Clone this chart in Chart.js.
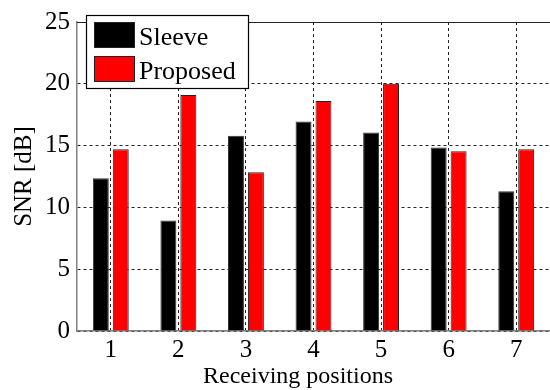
<!DOCTYPE html>
<html>
<head>
<meta charset="utf-8">
<script src="https://cdn.jsdelivr.net/npm/chart.js@4/dist/chart.umd.min.js"></script>
<style>
  html, body { margin: 0; padding: 0; background: #fff; }
  #wrap { width: 550px; height: 390px; position: relative; }
</style>
</head>
<body>
<div id="wrap"><canvas id="c"></canvas></div>
<script>
// Receiving positions and measured SNR (dB) for each antenna
const positions = ['1', '2', '3', '4', '5', '6', '7'];
const sleeveSNR   = [12.35, 8.95, 15.8, 16.95, 16.05, 14.85, 11.3];
const proposedSNR = [14.7, 19.1, 12.85, 18.6, 20.0, 14.55, 14.7];
const seriesNames = ['Sleeve', 'Proposed'];
const yTicks = [0, 5, 10, 15, 20, 25];
const xTitle = 'Receiving positions';
const yTitle = 'SNR [dB]';

const SERIF = "'Liberation Serif', 'Times New Roman', Tinos, 'DejaVu Serif', 'Noto Serif', serif";

// Axis titles, solid top frame line and the boxed legend in the upper-left corner
const framePlugin = {
  id: 'frameAndLegend',
  afterDraw(chart) {
    const ctx = chart.ctx;
    const a = chart.chartArea;
    ctx.save();
    ctx.strokeStyle = '#222';
    ctx.lineWidth = 1;
    ctx.beginPath();
    ctx.moveTo(a.left, a.top + 0.5);
    ctx.lineTo(a.right, a.top + 0.5);
    ctx.stroke();

    // axis titles
    ctx.fillStyle = '#000';
    ctx.font = '24px ' + SERIF;
    ctx.textAlign = 'center';
    ctx.textBaseline = 'alphabetic';
    ctx.fillText(xTitle, 298, 383);
    ctx.save();
    ctx.translate(31, (a.top + a.bottom) / 2);
    ctx.rotate(-Math.PI / 2);
    ctx.font = '25px ' + SERIF;
    ctx.fillText(yTitle, 0, 0);
    ctx.restore();

    // legend
    const bx = 86, by = 15, bw = 162, bh = 73;
    ctx.fillStyle = '#fff';
    ctx.fillRect(bx, by, bw, bh);
    ctx.strokeStyle = '#000';
    ctx.lineWidth = 1.2;
    ctx.strokeRect(bx + 0.5, by + 0.5, bw, bh);

    ctx.font = '26px ' + SERIF;
    ctx.textAlign = 'left';
    chart.data.datasets.forEach((ds, i) => {
      const sy = 22 + i * 34;
      ctx.fillStyle = ds.backgroundColor;
      ctx.fillRect(94, sy, 41, 26);
      ctx.strokeStyle = '#222';
      ctx.lineWidth = 1;
      ctx.strokeRect(94.5, sy + 0.5, 40, 25);
      ctx.fillStyle = '#000';
      ctx.fillText(ds.label, 139, sy + 23);
    });
    ctx.restore();
  }
};

function build() {
  new Chart(document.getElementById('c'), {
    type: 'bar',
    data: {
      labels: positions,
      datasets: [
        { label: seriesNames[0], data: sleeveSNR, backgroundColor: '#000000', borderColor: '#333', borderWidth: 1 },
        { label: seriesNames[1], data: proposedSNR, backgroundColor: '#ff0000', borderColor: '#222', borderWidth: 1 }
      ]
    },
    options: {
      responsive: true,
      maintainAspectRatio: false,
      animation: false,
      layout: { padding: { top: 18, right: 0, left: 0, bottom: 0 } },
      datasets: { bar: { categoryPercentage: 0.59, barPercentage: 0.8 } },
      plugins: { legend: { display: false }, tooltip: { enabled: false } },
      scales: {
        x: {
          offset: true,
          grid: { offset: false, color: '#222', lineWidth: 1, drawTicks: false },
          border: { color: '#808080', width: 1.5, dash: [3, 3] },
          ticks: { color: '#000', font: { family: SERIF, size: 25 }, padding: 4, maxRotation: 0 },
          afterFit(s) { s.height = 59; }
        },
        y: {
          min: 0, max: 25,
          afterBuildTicks(s) { s.ticks = yTicks.map(v => ({ value: v })); },
          grid: { color: '#222', lineWidth: 1, drawTicks: false },
          border: { color: '#808080', width: 1.5, dash: [3, 3] },
          ticks: { color: '#000', font: { family: SERIF, size: 25 }, padding: 7 },
          afterFit(s) { s.width = 77; }
        }
      }
    },
    plugins: [framePlugin]
  });
}

const fontReady = document.fonts && document.fonts.load
  ? Promise.all([document.fonts.load("25px 'Liberation Serif'")]).catch(() => {})
  : Promise.resolve();
fontReady.then(build, build);
</script>
</body>
</html>
